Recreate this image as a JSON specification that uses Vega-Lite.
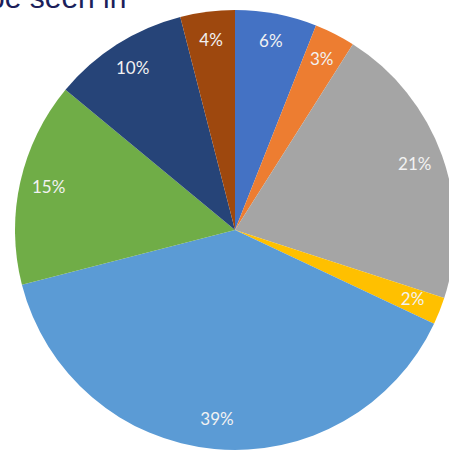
{
  "$schema": "https://vega.github.io/schema/vega-lite/v6.json",
  "width": 470,
  "height": 460,
  "padding": 0,
  "autosize": "none",
  "background": "white",
  "view": {"stroke": null},
  "title": {
    "text": "be seen in",
    "anchor": "start",
    "frame": "group",
    "orient": "top",
    "offset": 0,
    "baseline": "alphabetic",
    "dx": -12,
    "dy": 38,
    "fontSize": 30,
    "font": "Liberation Sans",
    "fontWeight": "normal",
    "color": "#1C1F5A"
  },
  "data": {
    "values": [
      {"order": 1, "category": "A", "value": 6, "label": "6%"},
      {"order": 2, "category": "B", "value": 3, "label": "3%"},
      {"order": 3, "category": "C", "value": 21, "label": "21%"},
      {"order": 4, "category": "D", "value": 2, "label": "2%"},
      {"order": 5, "category": "E", "value": 39, "label": "39%"},
      {"order": 6, "category": "F", "value": 15, "label": "15%"},
      {"order": 7, "category": "G", "value": 10, "label": "10%"},
      {"order": 8, "category": "H", "value": 4, "label": "4%"}
    ]
  },
  "encoding": {
    "theta": {"field": "value", "type": "quantitative", "stack": true},
    "order": {"field": "order", "type": "quantitative"},
    "color": {
      "field": "category",
      "type": "nominal",
      "legend": null,
      "scale": {
        "domain": ["A", "B", "C", "D", "E", "F", "G", "H"],
        "range": ["#4472C4", "#ED7D31", "#A5A5A5", "#FFC000", "#5B9BD5", "#70AD47", "#264478", "#9E480E"]
      }
    }
  },
  "layer": [
    {"mark": {"type": "arc", "outerRadius": 220, "stroke": null}},
    {
      "mark": {"type": "text", "radius": 191, "fontSize": 17, "font": "Lato", "align": "center", "baseline": "middle"},
      "encoding": {
        "text": {"field": "label", "type": "nominal"},
        "color": {"value": "#F2F2F2"}
      }
    }
  ]
}
